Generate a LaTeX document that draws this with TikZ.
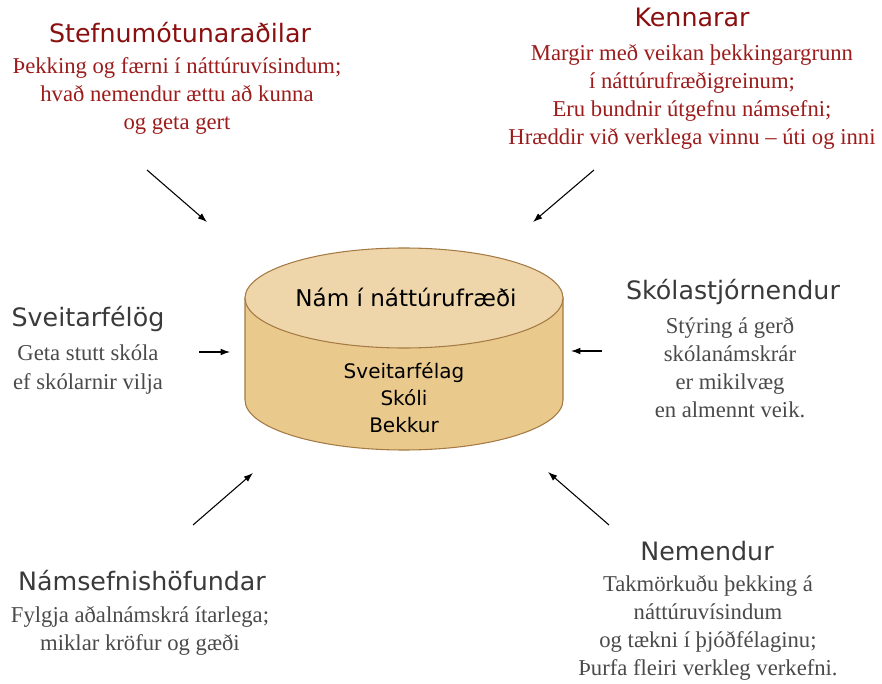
\documentclass[tikz,border=0pt]{standalone}
\usepackage{fontspec}
\setmainfont{Liberation Serif}
\newfontfamily\headfont{DejaVu Sans}
\usetikzlibrary{arrows.meta}
\definecolor{headred}{HTML}{8A1010}
\definecolor{bodyred}{HTML}{9C1C1C}
\definecolor{headgray}{HTML}{3A3A3A}
\definecolor{bodygray}{HTML}{4A4A4A}
\definecolor{cyltop}{HTML}{EED6AA}
\definecolor{cylside}{HTML}{E9C98C}
\definecolor{cylline}{HTML}{A57A45}
\tikzset{
	heading/.style={anchor=base, inner sep=0pt, font=\headfont\fontsize{19}{22}\selectfont},
	body/.style={anchor=base, inner sep=0pt, align=center, font=\fontsize{17}{21}\selectfont},
	push/.style={-{Latex[length=7pt,width=5pt]}, line width=0.8pt},
}

\begin{document}
\begin{tikzpicture}[x=0.75pt, y=-0.75pt]
			%%%%% START %%%%%
			
			\useasboundingbox (0, 0) rectangle (882, 684);
			
			% cylinder
			\draw[fill=cylside, draw=cylline, line width=0.8pt] (245, 298) -- (245, 400) arc[start angle=180, end angle=0, x radius=159, y radius=50] -- (563, 298) -- cycle;
			\draw[fill=cyltop, draw=cylline, line width=0.8pt] (404, 298) ellipse [x radius=159, y radius=50];
			\node[anchor=base, inner sep=0pt, font=\headfont\fontsize{17.3}{20}\selectfont] (nam) at (406, 307) {Nám í náttúrufræði};
			\node[anchor=base, inner sep=0pt, align=center, font=\headfont\fontsize{15}{20}\selectfont] (stig) at (404, 432) {Sveitarfélag\\Skóli\\Bekkur};
			
			% top left
			\node[heading, text=headred] (stefna) at (180, 43) {Stefnumótunaraðilar};
			\node[body, text=bodyred] (stefnatxt) at (177, 130) {Þekking og færni í náttúruvísindum;\\hvað nemendur ættu að kunna\\og geta gert};
			
			% top right
			\node[heading, text=headred] (kenn) at (692, 27) {Kennarar};
			\node[body, text=bodyred] (kenntxt) at (692, 145) {Margir með veikan þekkingargrunn\\í náttúrufræðigreinum;\\Eru bundnir útgefnu námsefni;\\Hræddir við verklega vinnu – úti og inni};
			
			% middle left
			\node[heading, text=headgray] (sveit) at (88, 327) {Sveitarfélög};
			\node[body, text=bodygray] (sveittxt) at (88, 389) {Geta stutt skóla\\ef skólarnir vilja};
			
			% middle right
			\node[heading, text=headgray] (stjorn) at (733, 300) {Skólastjórnendur};
			\node[body, text=bodygray] (stjorntxt) at (730, 417) {Stýring á gerð\\skólanámskrár\\er mikilvæg\\en almennt veik.};
			
			% bottom left
			\node[heading, text=headgray] (hof) at (142, 590) {Námsefnishöfundar};
			\node[body, text=bodygray] (hoftxt) at (140, 650) {Fylgja aðalnámskrá ítarlega;\\miklar kröfur og gæði};
			
			% bottom right
			\node[heading, text=headgray] (nem) at (707, 560) {Nemendur};
			\node[body, text=bodygray] (nemtxt) at (708, 675) {Takmörkuðu þekking á\\náttúruvísindum\\og tækni í þjóðfélaginu;\\Þurfa fleiri verkleg verkefni.};
			
			% arrows
			\coordinate (a1) at (147, 170); \coordinate (b1) at (207, 222);
			\coordinate (a2) at (594, 170); \coordinate (b2) at (533, 222);
			\coordinate (a3) at (199, 352); \coordinate (b3) at (230, 352);
			\coordinate (a4) at (602, 351); \coordinate (b4) at (571, 351);
			\coordinate (a5) at (193, 525); \coordinate (b5) at (253, 473);
			\coordinate (a6) at (609, 525); \coordinate (b6) at (548, 472);
			\foreach \i in {1,...,6}
				\draw[push] (a\i) -- (b\i);
			
			%%%%% END %%%%%
		\end{tikzpicture}
\end{document}
